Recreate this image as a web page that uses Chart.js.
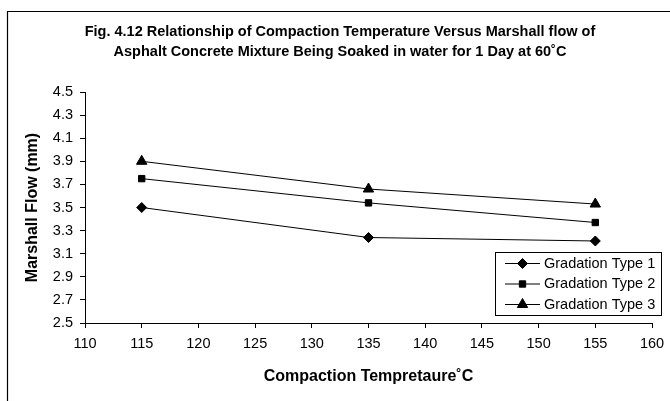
<!DOCTYPE html>
<html>
<head>
<meta charset="utf-8">
<title>Marshall flow vs compaction temperature</title>
<script src="https://cdn.jsdelivr.net/npm/chart.js@4.4.1/dist/chart.umd.min.js"></script>
<style>
  html, body { margin: 0; padding: 0; background: #fff; }
  #wrap { width: 670px; height: 401px; }
</style>
</head>
<body>
<div id="wrap"><canvas id="flowChart" width="670" height="401"></canvas></div>
<script>
// Marshall flow (mm) at each compaction temperature (C)
const temperatures = [115, 135, 155];
const gradation1 = [3.50, 3.24, 3.21];
const gradation2 = [3.75, 3.54, 3.37];
const gradation3 = [3.90, 3.66, 3.53];
const seriesNames = ['Gradation Type 1', 'Gradation Type 2', 'Gradation Type 3'];

// Axis ticks
const xTickValues = [110, 115, 120, 125, 130, 135, 140, 145, 150, 155, 160];
const yTickValues = [2.5, 2.7, 2.9, 3.1, 3.3, 3.5, 3.7, 3.9, 4.1, 4.3, 4.5];

const titleLines = [
    'Fig. 4.12 Relationship of Compaction Temperature Versus Marshall flow of',
    'Asphalt Concrete Mixture Being Soaked in water for 1 Day at 60\u02DAC'
];

const FONT = '"Liberation Sans", Arial, Helvetica, sans-serif';
Chart.defaults.font.family = FONT;
Chart.defaults.color = '#000';

function toPoints(values) {
    return temperatures.map((t, i) => ({ x: t, y: values[i] }));
}

function series(label, values, style, radius) {
    return {
        label: label,
        data: toPoints(values),
        borderColor: '#000',
        backgroundColor: '#000',
        borderWidth: 1,
        pointStyle: style,
        pointRadius: radius,
        pointHoverRadius: radius,
        pointBorderWidth: 1,
        tension: 0
    };
}

// White background plus the outer frame (left and top edges only)
const framePlugin = {
    id: 'frame',
    beforeDraw(chart) {
        const ctx = chart.ctx;
        ctx.save();
        ctx.fillStyle = '#fff';
        ctx.fillRect(0, 0, chart.width, chart.height);
        ctx.strokeStyle = '#000';
        ctx.lineWidth = 1.2;
        ctx.beginPath();
        ctx.moveTo(7.5, chart.height);
        ctx.lineTo(7.5, 11.5);
        ctx.lineTo(chart.width, 11.5);
        ctx.stroke();
        ctx.restore();
    }
};

// Boxed legend in the lower right of the plot
const boxLegend = {
    id: 'boxLegend',
    afterDatasetsDraw(chart) {
        const ctx = chart.ctx;
        const bx = 495.5, by = 252.5, bw = 166, bh = 63;
        ctx.save();
        ctx.fillStyle = '#fff';
        ctx.fillRect(bx, by, bw, bh);
        ctx.strokeStyle = '#000';
        ctx.lineWidth = 1;
        ctx.strokeRect(bx, by, bw, bh);
        ctx.font = '14.5px ' + FONT;
        ctx.textBaseline = 'middle';
        ctx.textAlign = 'left';
        chart.data.datasets.forEach((ds, i) => {
            const cy = 263.5 + i * 20.5;
            ctx.strokeStyle = '#000';
            ctx.lineWidth = 1;
            ctx.beginPath();
            ctx.moveTo(505, cy);
            ctx.lineTo(540, cy);
            ctx.stroke();
            ctx.fillStyle = '#000';
            Chart.helpers.drawPoint(ctx, {
                pointStyle: ds.pointStyle,
                radius: ds.pointRadius,
                borderWidth: 1,
                rotation: 0
            }, 522.5, cy);
            ctx.fillStyle = '#000';
            ctx.fillText(ds.label, 544, cy);
        });
        ctx.restore();
    }
};

const tickFont = { family: FONT, size: 14.5 };
const axisTitleFont = { family: FONT, size: 16, weight: 'bold', lineHeight: 1.2 };

new Chart(document.getElementById('flowChart').getContext('2d'), {
    type: 'line',
    data: {
        datasets: [
            series(seriesNames[0], gradation1, 'rectRot', 5),
            series(seriesNames[1], gradation2, 'rect', 4.5),
            series(seriesNames[2], gradation3, 'triangle', 6)
        ]
    },
    options: {
        responsive: false,
        animation: false,
        events: [],
        layout: { padding: { left: 10, right: 0, top: 0, bottom: 0 } },
        plugins: {
            legend: { display: false },
            tooltip: { enabled: false },
            title: {
                display: true,
                text: titleLines,
                color: '#000',
                font: { family: FONT, size: 14.5, weight: 'bold', lineHeight: 20 / 14.5 },
                padding: { top: 22, bottom: 30 }
            }
        },
        scales: {
            x: {
                type: 'linear',
                min: 110,
                max: 160,
                afterBuildTicks: s => { s.ticks = xTickValues.map(v => ({ value: v })); },
                // fixed axis height and right-hand gap after the last tick
                afterFit: s => { s.height = 78; s.paddingRight = 18; },
                grid: { drawOnChartArea: false, drawTicks: true, tickLength: 5, color: '#000' },
                border: { color: '#000', width: 1 },
                ticks: { color: '#000', font: tickFont, padding: 7, maxRotation: 0, autoSkip: false },
                title: {
                    display: true,
                    text: 'Compaction Tempretaure\u02DAC',
                    color: '#000',
                    font: axisTitleFont,
                    padding: { top: 0, bottom: 15 }
                }
            },
            y: {
                min: 2.5,
                max: 4.5,
                afterBuildTicks: s => { s.ticks = yTickValues.map(v => ({ value: v })); },
                afterFit: s => { s.width = 75; },
                grid: { drawOnChartArea: false, drawTicks: true, tickLength: 5, color: '#000' },
                border: { color: '#000', width: 1 },
                ticks: {
                    color: '#000',
                    font: tickFont,
                    padding: 7,
                    autoSkip: false,
                    callback: v => Number(v).toFixed(1)
                },
                title: {
                    display: true,
                    text: 'Marshall Flow (mm)',
                    color: '#000',
                    font: axisTitleFont,
                    padding: { top: 13, bottom: 0 }
                }
            }
        }
    },
    plugins: [framePlugin, boxLegend]
});
</script>
</body>
</html>
